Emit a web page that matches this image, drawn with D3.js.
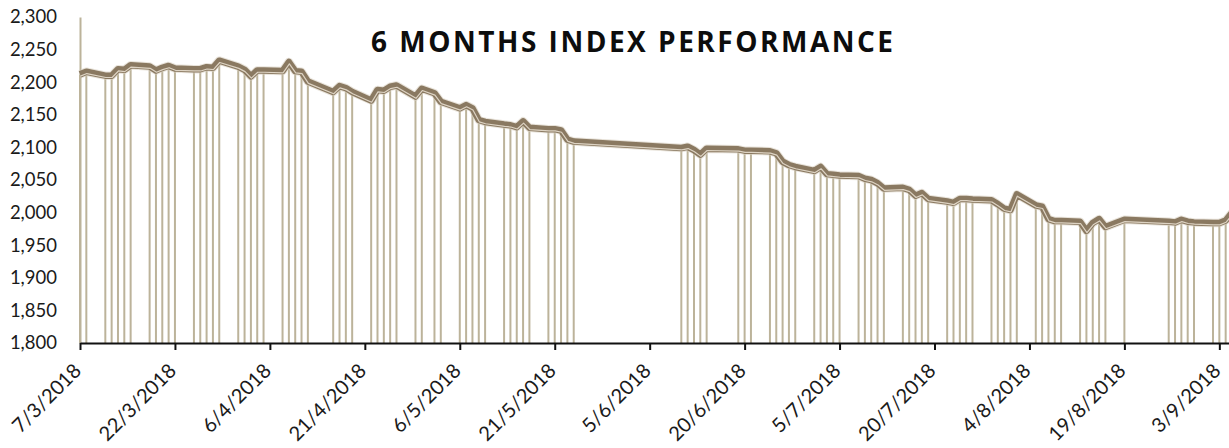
<!DOCTYPE html>
<html>
<head>
<meta charset="utf-8">
<script src="https://cdn.jsdelivr.net/npm/d3@7"></script>
<style>
    body { margin:0; background:#fff; }
    svg { display:block; overflow:hidden; }
    .tick text { font-family: Lato, "Open Sans", sans-serif; font-size:18.5px; fill:#1a1a1a; }
    .x-axis .tick text { font-size:20px; }
    .chart-title { font-family: "Open Sans", sans-serif; font-weight:bold; font-size:28px; fill:#0d0d0d; }
</style>
</head>
<body>
<svg id="canvas-svg" width="1229" height="448"></svg>
<script>
// trading days (d/m/yyyy) and closing index values
var dates = [
    '7/3/2018','8/3/2018','11/3/2018','12/3/2018','13/3/2018','14/3/2018','15/3/2018',
    '18/3/2018','19/3/2018','20/3/2018','21/3/2018','22/3/2018',
    '25/3/2018','26/3/2018','27/3/2018','28/3/2018','29/3/2018',
    '1/4/2018','2/4/2018','3/4/2018','4/4/2018','5/4/2018',
    '8/4/2018','9/4/2018','10/4/2018','11/4/2018','12/4/2018',
    '16/4/2018','17/4/2018','18/4/2018','19/4/2018',
    '22/4/2018','23/4/2018','24/4/2018','25/4/2018','26/4/2018',
    '29/4/2018','30/4/2018','2/5/2018','3/5/2018',
    '6/5/2018','7/5/2018','8/5/2018','9/5/2018','10/5/2018',
    '13/5/2018','14/5/2018','15/5/2018','16/5/2018','17/5/2018',
    '20/5/2018','21/5/2018','22/5/2018','23/5/2018','24/5/2018',
    '10/6/2018','11/6/2018','12/6/2018','13/6/2018','14/6/2018',
    '19/6/2018','20/6/2018','21/6/2018',
    '24/6/2018','25/6/2018','26/6/2018','27/6/2018','28/6/2018',
    '1/7/2018','2/7/2018','3/7/2018','4/7/2018','5/7/2018',
    '8/7/2018','9/7/2018','10/7/2018','11/7/2018','12/7/2018',
    '15/7/2018','16/7/2018','17/7/2018','18/7/2018','19/7/2018',
    '22/7/2018','23/7/2018','24/7/2018','25/7/2018','26/7/2018',
    '29/7/2018','30/7/2018','31/7/2018','1/8/2018','2/8/2018',
    '5/8/2018','6/8/2018','7/8/2018','8/8/2018','9/8/2018',
    '12/8/2018','13/8/2018','14/8/2018','15/8/2018','16/8/2018',
    '19/8/2018',
    '26/8/2018','27/8/2018','28/8/2018','29/8/2018','30/8/2018',
    '2/9/2018','3/9/2018','4/9/2018','5/9/2018'
];
var values = [
    2212,2216,2210,2210,2220,2219,2226,
    2224,2218,2222,2225,2221,
    2220,2220,2223,2222,2233,
    2224,2219,2209,2218,2218,
    2217,2231,2217,2216,2201,
    2185,2194,2191,2185,
    2172,2188,2187,2193,2195,
    2178,2190,2183,2170,
    2160,2165,2160,2142,2139,
    2135,2134,2131,2140,2130,
    2128,2128,2126,2112,2109,
    2099,2101,2096,2089,2098,
    2097,2095,2095,
    2094,2091,2078,2073,2070,
    2064,2070,2059,2058,2057,
    2056,2052,2050,2045,2037,
    2038,2035,2026,2030,2021,
    2017,2015,2021,2021,2020,
    2019,2013,2006,2004,2028,
    2011,2009,1990,1987,1987,
    1986,1972,1984,1990,1978,
    1989,
    1986,1985,1989,1986,1985,
    1984,1984,1988,2000
];
var yTicks = [1800,1850,1900,1950,2000,2050,2100,2150,2200,2250,2300];
var xStart = '7/3/2018', xEnd = '5/9/2018';
var titleText = '6 MONTHS INDEX PERFORMANCE';

var parseDate = d3.timeParse('%d/%m/%Y');
var fmtDate = d3.timeFormat('%-d/%-m/%Y');

var svg = d3.select('#canvas-svg');
var width = +svg.attr('width');
var height = +svg.attr('height');
var margin = {left:80, right:-3, top:17, bottom:105};

var data = dates.map((d,i)=>({date:parseDate(d), value:values[i]}));

var scale_x = d3.scaleTime()
    .domain([parseDate(xStart), parseDate(xEnd)])
    .range([margin.left, width - margin.right]);
var scale_y = d3.scaleLinear()
    .domain([d3.min(yTicks), d3.max(yTicks)])
    .range([height - margin.bottom, margin.top]);

// a tick every 15 days from the first trading day
var xTicks = d3.timeDay.range(parseDate(xStart), parseDate(xEnd), 15);

// y axis (tan line, no tick marks)
var gY = svg.append('g')
    .attr('transform', `translate(${margin.left},0)`)
    .call(d3.axisLeft(scale_y).tickValues(yTicks).tickFormat(d3.format(',')).tickSize(0).tickPadding(23));
gY.select('.domain').attr('stroke','#bcb39a').attr('stroke-width',2);
gY.selectAll('.tick text').attr('fill','#1a1a1a');

// drop lines from each close down to the axis
svg.append('g').selectAll('line').data(data).enter().append('line')
    .attr('x1', d=>scale_x(d.date))
    .attr('x2', d=>scale_x(d.date))
    .attr('y1', d=>scale_y(d.value))
    .attr('y2', scale_y(d3.min(yTicks)))
    .attr('stroke','#bcb39a')
    .attr('stroke-width',2);

var line = d3.line().x(d=>scale_x(d.date)).y(d=>scale_y(d.value));

// soft halo, thick brown line, light inner line
svg.append('path').datum(data)
    .attr('d', line).attr('fill','none')
    .attr('stroke','#d8d0c2').attr('stroke-width',8.5).attr('stroke-linejoin','round').attr('opacity',0.6);
svg.append('path').datum(data)
    .attr('d', line).attr('fill','none')
    .attr('stroke','#8a7961').attr('stroke-width',6.5).attr('stroke-linejoin','round');
svg.append('path').datum(data)
    .attr('d', line).attr('fill','none')
    .attr('transform','translate(0.5,1.8)')
    .attr('stroke','#ddd3c3').attr('stroke-width',1.2).attr('stroke-linejoin','round');

// x axis
var gX = svg.append('g')
    .attr('class','x-axis')
    .attr('transform', `translate(0,${scale_y(d3.min(yTicks))})`)
    .call(d3.axisBottom(scale_x).tickValues(xTicks).tickFormat(fmtDate).tickSize(7).tickSizeOuter(0));
gX.select('.domain').attr('stroke','#111').attr('stroke-width',2);
gX.selectAll('.tick line').attr('stroke','#111').attr('stroke-width',2);
gX.selectAll('.tick text')
    .attr('x',0).attr('y',0).attr('dy',0)
    .attr('transform','translate(2,29) rotate(-45)')
    .style('text-anchor','end')
    .attr('fill','#1a1a1a');

svg.append('text').text(titleText)
    .attr('class','chart-title')
    .attr('x',371)
    .attr('y',52)
    .attr('textLength',522)
    .attr('lengthAdjust','spacing');
</script>
</body>
</html>
